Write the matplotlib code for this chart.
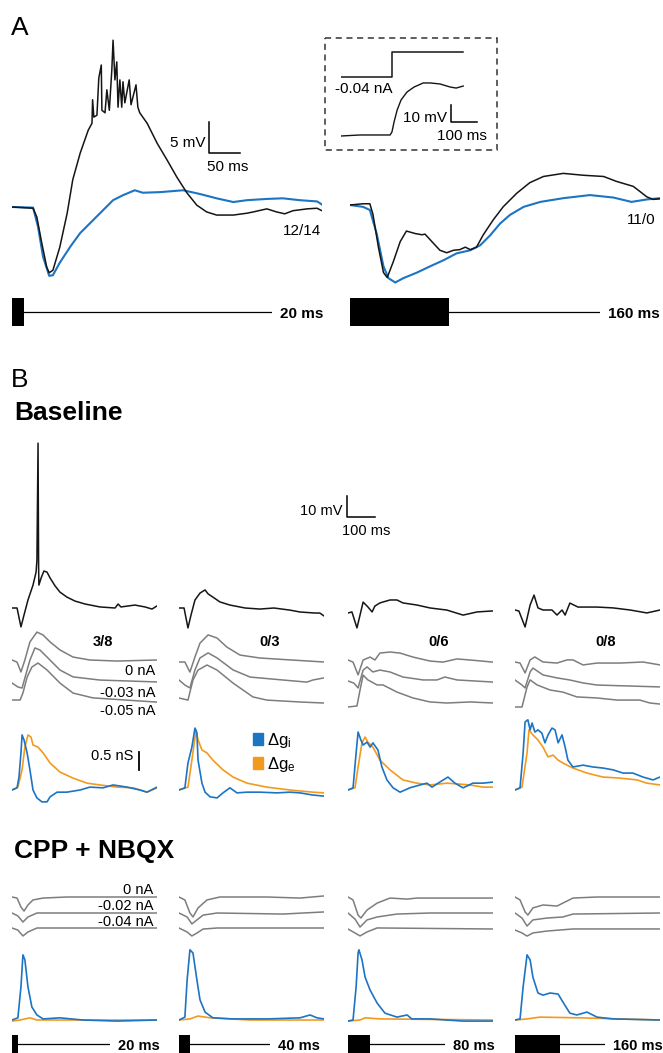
import matplotlib
matplotlib.use('Agg')
import matplotlib.pyplot as plt
from matplotlib.patches import Rectangle

plt.rcParams['font.family'] = ['Liberation Sans', 'DejaVu Sans']
plt.rcParams['mathtext.default'] = 'regular'

W, H = 663, 1053
BLUE = '#1b74c4'
ORANGE = '#f39a1e'
GRAY = '#7d7d7d'
BLACK = '#151515'

# ---------------- panel A: time (ms), Vm (mV, relative to rest) ----------------
a_short_black_t = [0, 34, 40, 48, 56, 60, 66, 77, 89, 98, 110, 123, 129, 130, 132, 137, 140, 144, 145, 150,
                   153, 157, 161, 163, 166, 169, 171, 174, 177, 179, 182, 189, 192, 200, 203, 206, 218, 234,
                   250, 266, 282, 298, 314, 330, 357, 379, 389, 411, 427, 440, 453, 476, 492, 500]
a_short_black_v = [0, -0.2, -1.6, -5.8, -9.7, -10.6, -10.2, -6.5, -1.0, 4.4, 8.7, 12.4, 13.5, 17.3, 14.5, 14.8,
                   20.8, 22.9, 15.6, 15.2, 18.9, 15.6, 22.1, 26.9, 20.5, 23.4, 16.1, 20.5, 16.1, 20.2, 16.8,
                   20.5, 16.5, 19.7, 16.1, 15.2, 13.5, 10.3, 7.6, 4.8, 2.3, 0.3, -0.8, -1.3, -1.3, -1.0, -0.8,
                   -0.3, -0.8, -1.1, -0.6, -0.3, -0.2, -0.6]
a_short_blue_t = [0, 34, 42, 50, 60, 66, 77, 94, 110, 126, 142, 163, 179, 198, 211, 239, 276, 303, 330, 357,
                  379, 411, 437, 464, 492, 500]
a_short_blue_v = [0, -0.1, -3.2, -8.0, -11.1, -11.0, -9.0, -6.4, -4.2, -2.6, -1.0, 1.1, 1.9, 2.7, 2.3, 2.4,
                  2.7, 2.1, 1.4, 0.8, 1.1, 1.3, 1.4, 1.1, 0.9, 0.4]
a_long_black_t = [0, 21, 32, 37, 46, 54, 60, 70, 81, 91, 105, 116, 121, 132, 145, 156, 167, 177, 186, 194,
                  204, 215, 231, 247, 269, 290, 312, 344, 376, 409, 430, 457, 479, 489, 500]
a_long_black_v = [0, 0.2, 0.2, -1.5, -6.9, -10.9, -11.7, -9.1, -5.9, -4.2, -4.6, -4.8, -4.7, -5.9, -7.3, -7.7,
                  -7.3, -7.2, -6.8, -7.2, -6.8, -4.8, -2.4, -0.3, 1.9, 3.6, 4.6, 5.1, 4.8, 4.6, 3.8, 3.0, 1.3,
                  0.9, 1.0]
a_long_blue_t = [0, 21, 32, 43, 54, 62, 73, 86, 108, 129, 151, 172, 194, 210, 226, 242, 258, 280, 307, 344,
                 387, 425, 454, 479, 500]
a_long_blue_v = [0, -0.3, -0.8, -4.6, -9.9, -11.8, -12.5, -11.8, -10.9, -9.9, -8.9, -7.8, -7.3, -6.5, -4.9,
                 -3.0, -1.6, -0.3, 0.5, 1.1, 1.6, 1.2, 0.5, 0.9, 1.1]
a_ratio = ['12/14', '11/0']
a_stim_ms = [20, 160]

# inset: current step (nA) and voltage response (mV)
inset_i_t = [0, 196, 196, 470]
inset_i = [-0.04, -0.04, 0, 0]
inset_v_t = [0, 73, 189, 196, 204, 216, 231, 254, 281, 316, 343, 381, 420, 443, 470]
inset_v = [0, 0.6, 0.6, 2.4, 8.2, 15.3, 21.2, 25.9, 28.8, 31.2, 31.2, 30.6, 28.8, 28.2, 29.4]

# ---------------- panel B ----------------
b_stim_ms = [20, 40, 80, 160]
base_ratio = ['3/8', '0/3', '0/6', '0/8']
base_currents = ['0 nA', '-0.03 nA', '-0.05 nA']
cpp_currents = ['0 nA', '-0.02 nA', '-0.04 nA']

# baseline Vm (mV)
base_vm_t = [
    [0, 18, 32, 43, 57, 75, 86, 89, 93, 95, 96, 104, 114, 125, 136, 154, 171, 196, 225, 261, 314, 368, 379,
     389, 439, 475, 500, 518],
    [0, 18, 32, 43, 57, 75, 93, 104, 121, 146, 182, 236, 289, 339, 396, 432, 486, 503, 518],
    [0, 14, 32, 54, 71, 86, 96, 114, 150, 175, 196, 246, 293, 353, 411, 461, 518],
    [0, 14, 36, 54, 68, 82, 100, 132, 150, 168, 179, 196, 225, 293, 350, 411, 471, 518],
]
base_vm_v = [
    [0, 0, -9.0, -3.3, 3.8, 10.9, 17.1, 22.8, 78.5, 20.5, 10.9, 14.3, 17.6, 17.1, 14.3, 10.5, 7.6, 5.2, 3.3,
     1.9, 0.5, 0, 1.9, 0.5, 1.4, 0.5, -0.5, 1.0],
    [0, 0, -9.5, -3.3, 3.8, 7.1, 8.6, 6.7, 5.2, 2.9, 1.4, 0, -0.5, 0, -1.0, -1.9, -2.4, -2.4, -3.8],
    [0, 0.5, -7.1, 5.2, 2.9, 0.5, 3.3, 4.8, 6.2, 6.2, 4.8, 3.8, 2.4, 1.4, -1.0, 0.5, 1.0],
    [0, -0.5, -8.1, 2.4, 7.1, 1.0, 0, 0, -2.4, 0, -2.4, 3.3, 1.4, 1.4, 1.0, 0, -1.4, 0],
]

# baseline Vm at three holding currents (mV), [column][current]
base_gray_t = [
    [[0, 18, 32, 46, 64, 89, 111, 136, 171, 218, 278, 375, 518],
     [0, 21, 36, 46, 64, 82, 100, 136, 171, 218, 314, 518],
     [0, 29, 39, 54, 71, 93, 125, 171, 218, 289, 518]],
    [[0, 21, 39, 57, 75, 104, 136, 171, 218, 289, 396, 518],
     [0, 21, 39, 57, 75, 104, 136, 193, 254, 371, 457, 478, 518],
     [0, 32, 50, 68, 100, 136, 193, 264, 314, 432, 518]],
    [[0, 18, 36, 54, 79, 96, 114, 150, 186, 232, 293, 339, 389, 436, 518],
     [0, 21, 36, 54, 68, 89, 114, 150, 196, 268, 318, 346, 389, 518],
     [0, 32, 43, 54, 71, 104, 125, 175, 232, 293, 353, 436, 518]],
    [[0, 18, 36, 54, 71, 100, 150, 186, 207, 243, 293, 375, 457, 518],
     [0, 25, 36, 54, 64, 100, 150, 196, 243, 293, 518],
     [0, 25, 43, 54, 79, 125, 171, 221, 293, 364, 446, 482, 518]],
]
base_gray_v = [
    [[0, -1.0, -5.7, 0, 8.6, 13.3, 11.9, 8.6, 4.8, 1.4, 0, -0.5, 0],
     [0, -1.9, -2.4, 2.4, 10.9, 16.7, 15.7, 10.9, 6.2, 2.9, 1.4, 0.5],
     [0, 0, 3.3, 10.9, 15.7, 17.6, 14.3, 8.1, 3.3, 1.0, -1.0]],
    [[0, 0, -4.8, 2.4, 9.0, 12.9, 11.4, 7.1, 3.3, 1.9, 1.0, 0],
     [0, -2.4, -3.8, 4.8, 10.5, 12.9, 10.5, 4.8, 1.4, 0, -1.0, 0, 1.0],
     [0, -1.0, 8.6, 13.3, 15.7, 13.3, 7.1, 0.5, -1.0, -1.9, -2.4]],
    [[0, -1.0, -7.1, 0, 1.4, 0, 3.3, 3.8, 3.3, 1.4, -0.5, -1.0, 0.5, 0, -1.0],
     [0, -1.0, -3.3, 5.2, 6.7, 4.3, 5.2, 4.3, 1.9, 0.5, 0.5, 1.9, 0.5, -0.5],
     [0, 0.5, 8.1, 15.2, 12.9, 10.5, 10.5, 7.1, 4.3, 2.4, 1.9, 2.4, 1.9]],
    [[0, -0.5, -5.2, 1.0, 2.4, 0, -0.5, 1.0, 1.0, -1.4, -0.5, -0.5, 0, -1.4],
     [0, -2.4, -3.8, 3.8, 5.7, 2.4, 1.0, 0, -1.4, -2.4, -3.3],
     [0, 0, 9.5, 12.9, 10.5, 8.1, 7.1, 4.8, 4.3, 3.3, 3.3, 1.9, 1.4]],
]

# baseline conductances (nS)
base_gi_t = [
    [0, 18, 25, 32, 36, 43, 54, 64, 75, 89, 107, 125, 136, 161, 196, 243, 278, 325, 361, 411, 457, 482, 518],
    [0, 21, 32, 46, 57, 64, 68, 82, 93, 111, 136, 157, 182, 207, 243, 289, 350, 396, 432, 478, 518],
    [0, 18, 29, 36, 46, 54, 68, 79, 89, 107, 121, 139, 161, 186, 221, 257, 282, 300, 328, 357, 382, 411,
     446, 482, 518],
    [0, 18, 29, 36, 46, 54, 61, 71, 82, 96, 107, 118, 132, 143, 154, 168, 179, 189, 207, 243, 278, 314, 350,
     386, 421, 457, 493, 518],
]
base_gi = [
    [0, 0.06, 0.36, 1.03, 1.53, 1.39, 1.03, 0.56, 0, -0.22, -0.33, -0.33, -0.19, -0.06, -0.06, 0, 0.08, 0.06,
     0.14, 0.08, 0, -0.06, 0.08],
    [0, 0.06, 0.75, 1.19, 1.72, 1.58, 0.83, 0.19, -0.06, -0.19, -0.22, -0.08, 0.06, -0.08, -0.06, -0.06,
     -0.08, -0.06, -0.08, -0.14, -0.17],
    [0, 0.06, 1.03, 1.61, 1.39, 1.25, 1.33, 1.19, 1.31, 1.11, 0.64, 0.28, 0.06, -0.06, 0.06, 0.14, 0.19, 0.08,
     0.22, 0.36, 0.19, 0.06, 0.19, 0.19, 0.22],
    [0, 0.06, 1.03, 1.89, 1.95, 1.67, 1.86, 1.61, 1.67, 1.58, 1.31, 1.53, 1.72, 1.67, 1.31, 1.53, 1.19, 0.83,
     0.64, 0.69, 0.64, 0.61, 0.56, 0.47, 0.47, 0.36, 0.28, 0.36],
]
base_ge_t = [
    [0, 21, 36, 46, 57, 68, 75, 93, 111, 136, 171, 218, 268, 314, 375, 432, 482, 518],
    [0, 32, 46, 61, 68, 82, 100, 121, 157, 193, 243, 314, 396, 478, 518],
    [0, 25, 36, 50, 61, 71, 89, 114, 150, 196, 246, 293, 353, 389, 436, 482, 518],
    [0, 25, 43, 50, 64, 82, 100, 118, 136, 154, 171, 207, 257, 314, 375, 436, 471, 518],
]
base_ge = [
    [0, 0.08, 0.56, 1.19, 1.53, 1.47, 1.25, 1.19, 1.03, 0.75, 0.50, 0.33, 0.19, 0.14, 0.08, 0.06, -0.06, 0.06],
    [0, 0.08, 0.83, 1.67, 1.39, 1.11, 1.03, 0.83, 0.56, 0.36, 0.19, 0.08, 0, -0.06, -0.08],
    [0, 0.06, 0.64, 1.31, 1.47, 1.33, 1.19, 0.83, 0.56, 0.28, 0.19, 0.14, 0.19, 0.17, 0.14, 0.08, 0.08],
    [0, 0.08, 1.03, 1.67, 1.53, 1.39, 1.19, 0.92, 0.97, 0.83, 0.75, 0.61, 0.47, 0.36, 0.33, 0.28, 0.19, 0.14],
]

# CPP + NBQX Vm at three holding currents (mV)
cpp_gray_t = [
    [[0, 18, 32, 43, 57, 75, 111, 196, 518],
     [0, 21, 39, 57, 89, 518],
     [0, 21, 39, 57, 89, 518]],
    [[0, 21, 39, 50, 68, 100, 146, 314, 432, 518],
     [0, 29, 46, 64, 86, 136, 371, 518],
     [0, 29, 46, 64, 86, 136, 518]],
    [[0, 18, 36, 46, 68, 104, 150, 211, 246, 518],
     [0, 25, 43, 68, 104, 175, 293, 518],
     [0, 25, 43, 68, 104, 518]],
    [[0, 18, 36, 46, 64, 100, 150, 171, 207, 293, 518],
     [0, 25, 43, 64, 114, 171, 207, 518],
     [0, 25, 43, 64, 114, 207, 518]],
]
cpp_gray_v = [
    [[0, -0.5, -4.8, -6.7, -3.8, -1.4, -0.5, 0, 0],
     [0, -1.4, -4.3, -1.9, 0, 0],
     [0, -1.0, -3.8, -1.9, 0, 0]],
    [[0, -1.4, -7.6, -9.5, -5.2, -1.4, 0, 0, -0.5, 0.5],
     [0, -1.9, -5.2, -3.3, -1.0, 0, -0.5, 0.5],
     [0, -1.9, -3.8, -2.4, -0.5, 0, 0]],
    [[0, -1.4, -8.6, -10.0, -6.2, -2.9, -0.5, -1.0, -0.5, -0.5],
     [0, -2.9, -6.7, -3.3, -1.9, -0.5, 0, 0],
     [0, -1.9, -3.3, -1.4, 0.5, 0]],
    [[0, -1.4, -7.1, -8.6, -5.2, -3.8, -4.3, -2.9, -0.5, 0, 0],
     [0, -2.4, -6.2, -3.3, -2.4, -1.9, -0.5, 0],
     [0, -1.4, -2.9, -1.4, -0.5, 0.5, 0.5]],
]

# CPP + NBQX conductances (nS)
cpp_gi_t = [
    [0, 21, 32, 39, 46, 57, 71, 89, 111, 171, 253, 375, 518],
    [0, 21, 29, 39, 50, 64, 75, 93, 121, 193, 314, 432, 468, 493, 518],
    [0, 18, 29, 36, 39, 50, 61, 79, 104, 132, 175, 211, 228, 293, 411, 518],
    [0, 18, 29, 43, 54, 64, 82, 100, 125, 154, 171, 196, 221, 257, 293, 350, 518],
]
cpp_gi = [
    [0, 0.06, 0.92, 1.81, 1.67, 0.92, 0.36, 0.14, 0.03, 0.06, 0, -0.03, 0],
    [0, 0.08, 1.11, 1.95, 1.86, 1.11, 0.56, 0.22, 0.06, 0.03, 0.03, 0.06, 0.14, 0.06, 0.03],
    [-0.03, 0, 0.92, 1.86, 1.95, 1.67, 1.19, 0.83, 0.47, 0.19, 0.08, 0.14, 0.03, 0.03, -0.03, -0.03],
    [0, 0.03, 0.92, 1.81, 1.67, 1.19, 0.75, 0.69, 0.75, 0.72, 0.50, 0.19, 0.14, 0.22, 0.08, 0.03, 0],
]
cpp_ge_t = [
    [0, 29, 64, 89, 518],
    [0, 39, 68, 111, 254, 518],
    [0, 43, 61, 114, 518],
    [0, 43, 89, 232, 375, 518],
]
cpp_ge = [
    [-0.03, 0, 0.06, 0, 0],
    [0, 0.03, 0.11, 0.06, 0, 0],
    [-0.03, 0, 0.06, 0.03, 0],
    [0, 0.03, 0.08, 0.06, 0.03, 0],
]

# ---------------- scales / layout (reference pixels) ----------------
A_MS, A_MV = 50 / 31, 5 / 31          # ms per px, mV per px
IN_MS, IN_MV, IN_NA = 100 / 26, 10 / 17, 0.04 / 25
B_MS, B_MV, B_NS = 100 / 28, 10 / 21, 0.5 / 18
col_x = [12, 179, 348, 515]
col_w = 145
base_vm_y = [608, 608, 613, 610]
base_gray_y = [[660, 683, 700], [662, 680, 698], [660, 681, 707], [662, 680, 707]]
cpp_gray_y = [[897, 913, 928], [897, 913, 928], [897, 913, 929], [897, 913, 930]]
base_g_y = 790
cpp_g_y = 1020
b_stim_end = [110, 270, 445, 605]

fig = plt.figure(figsize=(W / 100, H / 100), dpi=100)
ov = fig.add_axes([0, 0, 1, 1])
ov.set_xlim(0, W)
ov.set_ylim(H, 0)
ov.set_axis_off()


def trace_ax(x0, ybase, w, ms_px, unit_px):
    ax = fig.add_axes([x0 / W, 0, w / W, 1])
    ax.set_xlim(0, w * ms_px)
    ax.set_ylim((ybase - H) * unit_px, ybase * unit_px)
    ax.set_axis_off()
    ax.patch.set_alpha(0)
    return ax


def stim_bar(x0, x1, ytop, ybot, ms_px, dur, label, size):
    ax = fig.add_axes([x0 / W, 1 - ybot / H, (x1 - x0) / W, (ybot - ytop) / H])
    ax.set_xlim(0, (x1 - x0) * ms_px)
    ax.set_ylim(0, 1)
    ax.set_axis_off()
    ax.patch.set_alpha(0)
    ax.fill_between([0, dur], 0, 1, color='black', lw=0)
    ax.plot([dur, (x1 - x0) * ms_px], [0.5, 0.5], color='black', lw=0.9)
    ov.text(x1 + 8, (ytop + ybot) / 2 + 6, label, fontsize=size, fontweight='bold', va='baseline')


# ---- A ----
ov.text(11, 35, 'A', fontsize=19, va='baseline')
axL = trace_ax(12, 207, 310, A_MS, A_MV)
axL.plot(a_short_blue_t, a_short_blue_v, color=BLUE, lw=1.5)
axL.plot(a_short_black_t, a_short_black_v, color=BLACK, lw=1.1)
axR = trace_ax(350, 205, 310, A_MS, A_MV)
axR.plot(a_long_blue_t, a_long_blue_v, color=BLUE, lw=1.5)
axR.plot(a_long_black_t, a_long_black_v, color=BLACK, lw=1.1)

sx, sy = 209, 153
ov.plot([sx, sx, sx + 50 / A_MS], [sy - 5 / A_MV, sy, sy], color='black', lw=1.1)
ov.text(sx - 3, 147, '5 mV', fontsize=11, ha='right', va='baseline')
ov.text(sx - 2, 171, '50 ms', fontsize=11, va='baseline')
ov.text(283, 235, a_ratio[0], fontsize=11, va='baseline')
ov.text(627, 224, a_ratio[1], fontsize=11, va='baseline')

stim_bar(12, 272, 298, 326, A_MS, a_stim_ms[0], '%d ms' % a_stim_ms[0], 11)
stim_bar(350, 600, 298, 326, A_MS, a_stim_ms[1], '%d ms' % a_stim_ms[1], 11)

# inset
ov.add_patch(Rectangle((325, 38), 172, 112, fill=False, ec='#333333', lw=1.1, ls=(0, (4, 3))))
axI = trace_ax(341, 52, 124, IN_MS, IN_NA)
axI.plot(inset_i_t, inset_i, color=BLACK, lw=1.1)
axV = trace_ax(341, 136, 124, IN_MS, IN_MV)
axV.plot(inset_v_t, inset_v, color=BLACK, lw=1.0)
ov.text(335, 93, '-0.04 nA', fontsize=11, va='baseline')
ix, iy = 451, 122
ov.plot([ix, ix, ix + 100 / IN_MS], [iy - 10 / IN_MV, iy, iy], color='black', lw=1.1)
ov.text(ix - 4, 122, '10 mV', fontsize=11, ha='right', va='baseline')
ov.text(437, 140, '100 ms', fontsize=11, va='baseline')

# ---- B ----
ov.text(11, 387, 'B', fontsize=19, va='baseline')
ov.text(14, 420, 'Baseline', fontsize=19, fontweight='bold', va='baseline')
ov.text(14, 858, 'CPP + NBQX', fontsize=19, fontweight='bold', va='baseline')

bx, by = 347, 517
ov.plot([bx, bx, bx + 100 / B_MS], [by - 10 / B_MV, by, by], color='black', lw=1.1)
ov.text(bx - 4, 515, '10 mV', fontsize=10.5, ha='right', va='baseline')
ov.text(342, 535, '100 ms', fontsize=10.5, va='baseline')

for c in range(4):
    x0 = col_x[c]
    ax = trace_ax(x0, base_vm_y[c], col_w, B_MS, B_MV)
    ax.plot(base_vm_t[c], base_vm_v[c], color=BLACK, lw=1.1)
    ov.text(x0 + 91, 646, base_ratio[c], fontsize=10.5, fontweight='bold', ha='center', va='baseline')
    for k in range(3):
        ax = trace_ax(x0, base_gray_y[c][k], col_w, B_MS, B_MV)
        ax.plot(base_gray_t[c][k], base_gray_v[c][k], color=GRAY, lw=1.1)
        ax = trace_ax(x0, cpp_gray_y[c][k], col_w, B_MS, B_MV)
        ax.plot(cpp_gray_t[c][k], cpp_gray_v[c][k], color=GRAY, lw=1.1)
    ax = trace_ax(x0, base_g_y, col_w, B_MS, B_NS)
    ax.plot(base_ge_t[c], base_ge[c], color=ORANGE, lw=1.2)
    ax.plot(base_gi_t[c], base_gi[c], color=BLUE, lw=1.2)
    ax = trace_ax(x0, cpp_g_y, col_w, B_MS, B_NS)
    ax.plot(cpp_ge_t[c], cpp_ge[c], color=ORANGE, lw=1.2)
    ax.plot(cpp_gi_t[c], cpp_gi[c], color=BLUE, lw=1.2)
    stim_bar(x0, b_stim_end[c], 1035, 1053, B_MS, b_stim_ms[c], '%d ms' % b_stim_ms[c], 10.5)

for k, y in enumerate([675, 697, 715]):
    ov.text(155, y, base_currents[k], fontsize=10.5, ha='right', va='baseline')
for k, y in enumerate([894, 910, 926]):
    ov.text(153, y, cpp_currents[k], fontsize=10.5, ha='right', va='baseline')

gx, gy = 139, 770
ov.plot([gx, gx], [gy - 0.5 / B_NS, gy], color='black', lw=1.3)
ov.text(gx - 6, 760, '0.5 nS', fontsize=10.5, ha='right', va='baseline')

ov.add_patch(Rectangle((253, 733), 10, 12, color=BLUE))
ov.add_patch(Rectangle((253, 757), 10, 12, color=ORANGE))
ov.text(267, 745, r'$\Delta g_{i}$', fontsize=12, va='baseline')
ov.text(267, 769, r'$\Delta g_{e}$', fontsize=12, va='baseline')

fig.savefig('out.png', dpi=100)
